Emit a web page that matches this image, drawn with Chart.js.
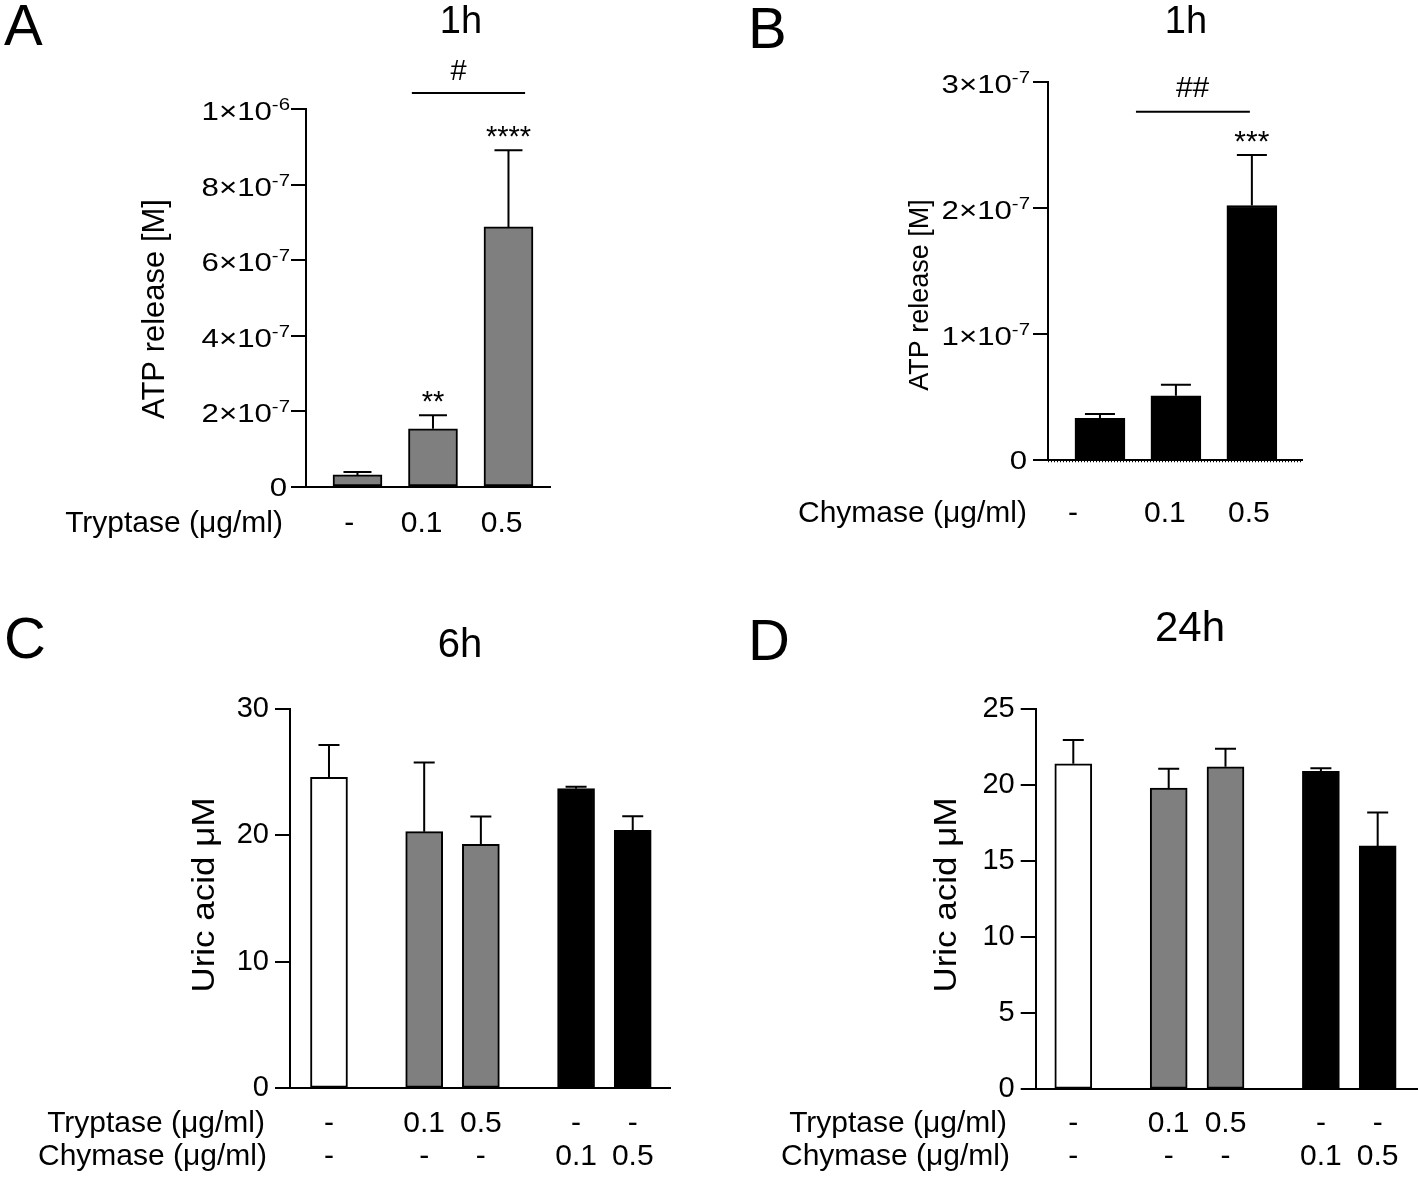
<!DOCTYPE html>
<html>
<head>
<meta charset="utf-8">
<script src="https://cdn.jsdelivr.net/npm/chart.js@4.4.1/dist/chart.umd.min.js"></script>
<style>
  body { margin: 0; background: #fff; }
  #wrap { position: relative; width: 1418px; height: 1181px; }
  canvas { position: absolute; }
</style>
</head>
<body>
<div id="wrap">
  <canvas id="chartA" width="709" height="590" style="left:0px;top:0px"></canvas>
  <canvas id="chartB" width="709" height="590" style="left:709px;top:0px"></canvas>
  <canvas id="chartC" width="709" height="591" style="left:0px;top:590px"></canvas>
  <canvas id="chartD" width="709" height="591" style="left:709px;top:590px"></canvas>
</div>
<script>
const FONT = '"Liberation Sans", Arial, Helvetica, sans-serif';
Chart.defaults.font.family = FONT;
Chart.defaults.color = '#000';

// ATP release after 1 h (panels A, B)
const atpX = [1, 2, 3];
const atpDoses = ['-', '0.1', '0.5'];
const atpTryptase = [3.2e-8, 1.54e-7, 6.88e-7];
const atpTryptaseSem = [0.75e-8, 0.36e-7, 2.03e-7];
const atpTryptaseStars = ['', '**', '****'];
const atpChymase = [3.3e-8, 5.1e-8, 2.02e-7];
const atpChymaseSem = [0.35e-8, 0.87e-8, 0.40e-7];
const atpChymaseStars = ['', '', '***'];
const atpTicksA = [0, 2e-7, 4e-7, 6e-7, 8e-7, 1e-6];
const atpTicksB = [0, 1e-7, 2e-7, 3e-7];

// uric acid after 6 h and 24 h (panels C, D)
const uricX = [1, 2.68, 3.68, 5.36, 6.36];
const tryptaseRow = ['-', '0.1', '0.5', '-', '-'];
const chymaseRow = ['-', '-', '-', '0.1', '0.5'];
const uric6h = [24.6, 20.3, 19.3, 23.7, 20.4];
const uric6hSem = [2.56, 5.46, 2.19, 0.16, 1.11];
const uric24h = [21.4, 19.8, 21.2, 20.9, 16.0];
const uric24hSem = [1.56, 1.27, 1.19, 0.2, 2.2];
const uricTicks6h = [0, 10, 20, 30];
const uricTicks24h = [0, 5, 10, 15, 20, 25];
const uricColors = ['#ffffff', '#7f7f7f', '#7f7f7f', '#000000', '#000000'];

function txt(ctx, s, x, y, o) {
  ctx.save();
  ctx.translate(x, y);
  if (o.rot) ctx.rotate(o.rot);
  ctx.scale(o.sx || 1, o.sy || 1);
  ctx.font = o.size + 'px ' + FONT;
  ctx.fillStyle = '#000';
  ctx.textAlign = o.align || 'center';
  ctx.textBaseline = o.base || 'alphabetic';
  ctx.fillText(s, 0, 0);
  ctx.restore();
}

// GraphPad style 2×10-7 tick label, right aligned at xr
function sciLabel(ctx, v, xr, y, p) {
  if (v === 0) {
    txt(ctx, '0', xr - 3, y + 9, { size: p.tickSize, sx: p.tickSx, align: 'right' });
    return;
  }
  const e = Math.floor(Math.log10(v) + 1e-9);
  const m = Math.round(v / Math.pow(10, e));
  const sup = String(e);
  ctx.font = p.supSize + 'px ' + FONT;
  const ws = ctx.measureText(sup).width * p.tickSx;
  txt(ctx, sup, xr, y + 1, { size: p.supSize, sx: p.tickSx, align: 'right' });
  txt(ctx, m + '\u00d710', xr - ws, y + 11, { size: p.tickSize, sx: p.tickSx, align: 'right' });
}

function decor(p) {
  return {
    id: 'decor',
    afterDatasetsDraw(chart) {
      const ctx = chart.ctx, xs = chart.scales.x, ys = chart.scales.y;
      ctx.save();
      ctx.strokeStyle = '#000';
      ctx.lineWidth = 2;
      p.values.forEach((v, i) => {
        const px = xs.getPixelForValue(p.xs[i]);
        const y0 = ys.getPixelForValue(v);
        const y1 = ys.getPixelForValue(v + p.sem[i]);
        ctx.beginPath();
        ctx.moveTo(px, y0); ctx.lineTo(px, y1);
        ctx.moveTo(px - p.capW / 2, y1); ctx.lineTo(px + p.capW / 2, y1);
        ctx.stroke();
      });
      ctx.restore();
    },
    afterDraw(chart) {
      const ctx = chart.ctx, xs = chart.scales.x, ys = chart.scales.y;
      const ox = p.left, oy = p.top;

      // dotted baseline (panel B)
      if (p.dotted) {
        const y0 = ys.getPixelForValue(0) + 1.5;
        ctx.save();
        ctx.strokeStyle = '#000';
        ctx.lineWidth = 1.5;
        ctx.setLineDash([1, 2]);
        ctx.beginPath();
        ctx.moveTo(xs.left, y0); ctx.lineTo(xs.right, y0);
        ctx.stroke();
        ctx.restore();
      }

      // significance stars
      if (p.stars) {
        ctx.font = p.starSize + 'px ' + FONT;
        const d = ctx.measureText('*').actualBoundingBoxDescent;
        p.stars.forEach((s, i) => {
          if (!s) return;
          const px = xs.getPixelForValue(p.xs[i]);
          const cap = ys.getPixelForValue(p.values[i] + p.sem[i]);
          txt(ctx, s, px, cap - 13 - d, { size: p.starSize });
        });
      }

      // comparison bracket
      if (p.bracket) {
        const b = p.bracket;
        const ly = ys.getPixelForValue(b.y);
        ctx.save();
        ctx.strokeStyle = '#000';
        ctx.lineWidth = 2;
        ctx.beginPath();
        ctx.moveTo(xs.getPixelForValue(b.from), ly);
        ctx.lineTo(xs.getPixelForValue(b.to), ly);
        ctx.stroke();
        ctx.restore();
        txt(ctx, b.label, xs.getPixelForValue(b.labelX), ly - b.gap, { size: b.size });
      }

      // scientific tick labels
      if (p.sci) {
        p.ticks.forEach(v => sciLabel(ctx, v, ys.right - 15 - p.tickGap, ys.getPixelForValue(v), p));
      }

      // category rows under the x axis
      p.rows.forEach(r => {
        txt(ctx, r.name, r.nameX - ox, r.y - oy, { size: r.size, align: 'right' });
        r.labels.forEach((s, i) => {
          txt(ctx, s, xs.getPixelForValue(r.xs[i]), r.y - oy, { size: r.size });
        });
      });

      // y axis title
      const t = p.yTitle;
      txt(ctx, t.text, t.x - ox, t.y - oy, { size: t.size, rot: -Math.PI / 2, base: 'middle', sy: t.sy || 1 });

      // panel letter and time title
      txt(ctx, p.letter, p.letterX - ox, p.letterY - oy, { size: 58, align: 'left' });
      txt(ctx, p.title, p.titleX - ox, p.titleY - oy, { size: p.titleSize });
    }
  };
}

function makeChart(p) {
  const data = p.values.map((v, i) => ({ x: p.xs[i], y: v }));
  return new Chart(document.getElementById(p.id), {
    type: 'bar',
    data: {
      datasets: [{
        data: data,
        backgroundColor: p.colors,
        borderColor: '#000',
        borderWidth: 2,
        borderSkipped: false,
        barThickness: p.barW
      }]
    },
    options: {
      responsive: false,
      animation: false,
      layout: { padding: { left: 0, top: p.padTop, right: p.padRight, bottom: 0 } },
      plugins: { legend: { display: false }, tooltip: { enabled: false } },
      scales: {
        x: {
          type: 'linear', min: p.xMin, max: p.xMax, offset: false,
          grid: { display: false },
          ticks: { display: false },
          border: { display: true, color: '#000', width: 2 },
          afterFit: s => { s.height = p.xAxisH; }
        },
        y: {
          min: 0, max: p.ticks[p.ticks.length - 1],
          afterBuildTicks: s => { s.ticks = p.ticks.map(v => ({ value: v })); },
          grid: { drawOnChartArea: false, drawTicks: true, tickLength: 15, color: '#000', lineWidth: 2 },
          border: { display: true, color: '#000', width: 2 },
          ticks: { display: !p.sci, padding: 6, color: '#000', font: { size: 29 } },
          afterFit: s => { s.width = p.yW; }
        }
      }
    },
    plugins: [decor(p)]
  });
}

makeChart({
  id: 'chartA', left: 0, top: 0,
  padTop: 109, padRight: 159, yW: 306, xAxisH: 103, xMin: 0.318, xMax: 3.55,
  xs: atpX, values: atpTryptase, sem: atpTryptaseSem, colors: '#7f7f7f',
  barW: 49, capW: 28,
  ticks: atpTicksA, sci: true, tickSize: 26, supSize: 17, tickSx: 1.2, tickGap: 1,
  stars: atpTryptaseStars, starSize: 29,
  bracket: { from: 1.72, to: 3.22, y: 1.042e-6, label: '#', labelX: 2.34, gap: 13, size: 29 },
  rows: [{ name: 'Tryptase (\u03bcg/ml)', nameX: 283, y: 532, size: 30, labels: atpDoses, xs: [0.89, 1.85, 2.91] }],
  yTitle: { text: 'ATP release [M]', x: 155, y: 309, size: 31 },
  letter: 'A', letterX: 4, letterY: 45, title: '1h', titleX: 461, titleY: 33, titleSize: 38
});

makeChart({
  id: 'chartB', left: 709, top: 0,
  padTop: 82, padRight: 116, yW: 339, xAxisH: 130, xMin: 0.316, xMax: 3.66,
  xs: atpX, values: atpChymase, sem: atpChymaseSem, colors: '#000000',
  barW: 50, capW: 30,
  ticks: atpTicksB, sci: true, tickSize: 26, supSize: 17, tickSx: 1.2, tickGap: 3,
  stars: atpChymaseStars, starSize: 30, dotted: true,
  bracket: { from: 1.474, to: 2.974, y: 2.764e-7, label: '##', labelX: 2.22, gap: 15, size: 30 },
  rows: [{ name: 'Chymase (\u03bcg/ml)', nameX: 1027, y: 522, size: 30, labels: atpDoses, xs: [0.645, 1.855, 2.96] }],
  yTitle: { text: 'ATP release [M]', x: 921, y: 295, size: 27 },
  letter: 'B', letterX: 748, letterY: 48, title: '1h', titleX: 1186, titleY: 33, titleSize: 38
});

makeChart({
  id: 'chartC', left: 0, top: 590,
  padTop: 119, padRight: 38.3, yW: 290, xAxisH: 92.7, xMin: 0.312, xMax: 7.03,
  xs: uricX, values: uric6h, sem: uric6hSem, colors: uricColors,
  barW: 37, capW: 21,
  ticks: uricTicks6h, sci: false,
  rows: [
    { name: 'Tryptase (\u03bcg/ml)', nameX: 265, y: 1132, size: 30, labels: tryptaseRow, xs: uricX },
    { name: 'Chymase (\u03bcg/ml)', nameX: 267, y: 1165, size: 30, labels: chymaseRow, xs: uricX }
  ],
  yTitle: { text: 'Uric acid \u03bcM', x: 205, y: 895, size: 35, sy: 0.9 },
  letter: 'C', letterX: 4, letterY: 658, title: '6h', titleX: 460, titleY: 657, titleSize: 40
});

makeChart({
  id: 'chartD', left: 709, top: 590,
  padTop: 119, padRight: 0, yW: 326.7, xAxisH: 91.7, xMin: 0.338, xMax: 7.07,
  xs: uricX, values: uric24h, sem: uric24hSem, colors: uricColors,
  barW: 37, capW: 21,
  ticks: uricTicks24h, sci: false,
  rows: [
    { name: 'Tryptase (\u03bcg/ml)', nameX: 1007, y: 1132, size: 30, labels: tryptaseRow, xs: uricX },
    { name: 'Chymase (\u03bcg/ml)', nameX: 1010, y: 1165, size: 30, labels: chymaseRow, xs: uricX }
  ],
  yTitle: { text: 'Uric acid \u03bcM', x: 947, y: 895, size: 35, sy: 0.9 },
  letter: 'D', letterX: 748, letterY: 660, title: '24h', titleX: 1190, titleY: 641, titleSize: 42
});
</script>
</body>
</html>
